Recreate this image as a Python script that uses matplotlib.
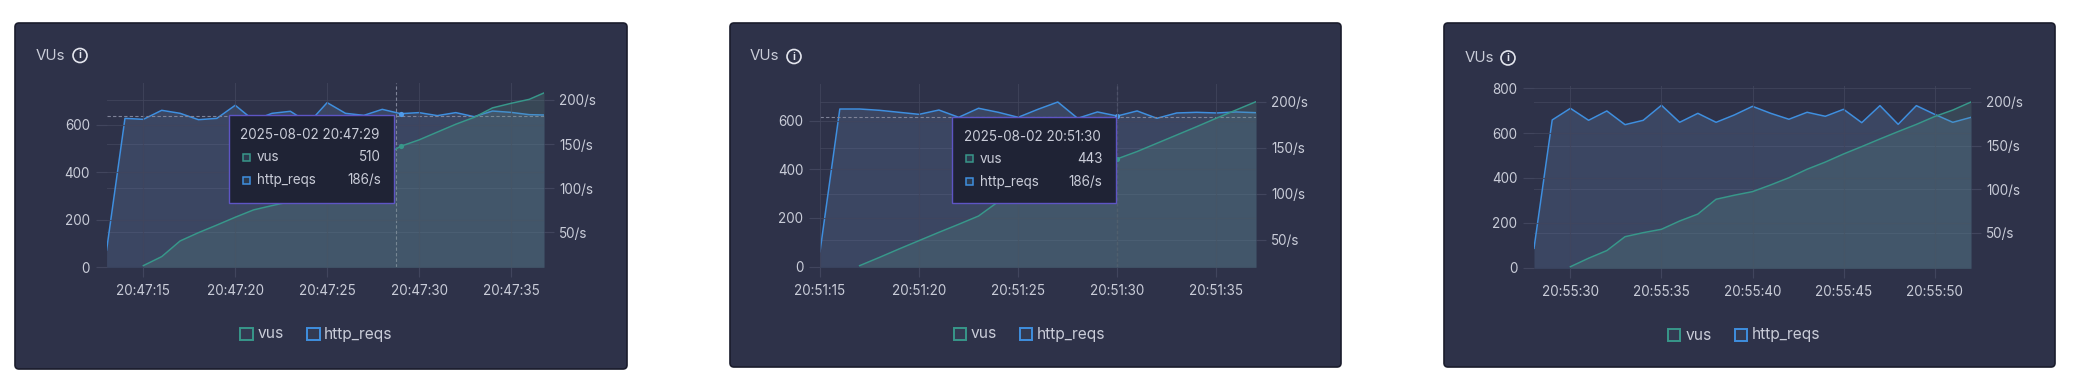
import matplotlib
matplotlib.use("Agg")
import matplotlib.pyplot as plt
from matplotlib.patches import FancyBboxPatch, Rectangle, Circle

plt.rcParams['font.family'] = ['Inter', 'DejaVu Sans']

# ---------- data ----------
secs_a = [13,14,15,16,17,18,19,20,21,22,23,24,25,26,27,28,29,30,31,32,33,34,35,36,36.8]
http_a = [30.2,179.2,178.1,188.3,184.9,177.7,179.2,194,177,184.9,187.2,174,197,184.9,182.6,189.4,184.5,185.7,182.3,185.7,181.1,187.5,186,183.4,183]
vus_secs_a = secs_a[2:]
vus_a = [7,45,111,146,178,211,242,260,277,319,354,396,431,466,510,537,570,603,632,672,691,708,735]
ticks_a = [15,20,25,30,35]
labels_a = ['20:47:15','20:47:20','20:47:25','20:47:30','20:47:35']

secs_b = list(range(15,38))
http_b = [36.9,192,192,190.6,188.4,186.2,190.9,183,192.8,188.4,183,191.7,199.6,181.9,188.8,184.4,189.9,181.9,187.7,188.4,187.7,188.8,188]
vus_secs_b = secs_b[2:]
vus_b = [4,38,73,107,141,174,208,267,308,342,377,397,418,443,473,507,541,575,610,644,678]
ticks_b = [15,20,25,30,35]
labels_b = ['20:51:15','20:51:20','20:51:25','20:51:30','20:51:35']

secs_c = list(range(28,53))
http_c = [32.4,179.4,192.7,179,189.7,174,179,196.2,176.7,187,176.7,185.1,195,187,180.2,188.2,183.6,191.6,176.3,195.8,174.4,195.8,185.9,176.7,182.4]
vus_secs_c = secs_c[2:]
vus_c = [4,42,76,138,156,171,208,239,305,323,339,369,401,439,471,507,540,574,607,639,674,703,739]
ticks_c = [30,35,40,45,50]
labels_c = ['20:55:30','20:55:35','20:55:40','20:55:45','20:55:50']

left_ticks_ab = [0,200,400,600]
left_ticks_c = [0,200,400,600,800]
right_ticks = [50,100,150,200]
right_labels = ['50/s','100/s','150/s','200/s']
series_names = ['vus','http_reqs']

# ---------- style ----------
W, H = 2082, 386
CARD = '#2e3249'; EDGE = '#1a1c2c'; TXT = '#c9ccd8'; GRID = '#41455d'
BLUE = '#3f8fdf'; GREEN = '#38978a'; DASH = '#7f8398'
TIP = '#1f2335'; TIPE = '#5e55c4'
TICK_FS = 9.7

fig = plt.figure(figsize=(W/100, H/100), dpi=100, facecolor='white')
bg = fig.add_axes([0,0,1,1], zorder=0); bg.set_xlim(0,W); bg.set_ylim(H,0); bg.axis('off')
top = fig.add_axes([0,0,1,1], zorder=10); top.set_xlim(0,W); top.set_ylim(H,0); top.axis('off'); top.patch.set_alpha(0)

def card(o):
    x0,x1,y0,y1 = o['card']
    bg.add_patch(FancyBboxPatch((x0+3,y0+3),x1-x0-6,y1-y0-6,boxstyle='round,pad=3,rounding_size=4',
                 fc=CARD,ec=EDGE,lw=1.2))
    tx,ty,cx = o['title']
    bg.text(tx,ty,'VUs',color=TXT,fontsize=10.8,va='center',ha='left')
    bg.add_patch(Circle((cx,ty),7.0,fc='none',ec='#e4e6ee',lw=1.2))
    bg.text(cx,ty,'i',color='#e4e6ee',fontsize=7.5,va='center',ha='center',fontweight='bold')
    # legend
    s1,t1,s2,t2,ly = o['legend']
    for s,t,c,n in ((s1,t1,GREEN,series_names[0]),(s2,t2,BLUE,series_names[1])):
        bg.add_patch(Rectangle((s,ly-6),12.5,12,fc='#333a52',ec=c,lw=1.4))
        bg.text(t,ly,n,color=TXT,fontsize=11.2,va='center',ha='left')

def panel(o, secs, http, vsecs, vus, ticks, labels, lticks):
    card(o)
    l,r,t,b = o['plot']
    ax = fig.add_axes([l/W,1-b/H,(r-l)/W,(b-t)/H],zorder=2)
    ax2 = ax.twinx()
    ax2.set_zorder(1); ax.set_zorder(2)
    for a in (ax,ax2):
        a.patch.set_alpha(0)
        for sp in a.spines.values(): sp.set_visible(False)
    ax.set_xlim(secs[0],secs[-1])
    ax.set_ylim(*o['ylim']); ax2.set_ylim(*o['y2lim'])
    ax2.fill_between(secs,http,o['y2lim'][0],color='#5f7aa6',alpha=0.28,lw=0,zorder=1)
    ax2.plot(secs,http,color=BLUE,lw=1.1,zorder=3)
    ax.fill_between(vsecs,vus,o['ylim'][0],color='#5c9287',alpha=0.22,lw=0,zorder=1)
    ax.plot(vsecs,vus,color=GREEN,lw=1.1,zorder=3)
    ax.set_xticks(ticks); ax.set_xticklabels(labels)
    ax.set_yticks(lticks)
    ax2.set_yticks(right_ticks); ax2.set_yticklabels(right_labels)
    ax.tick_params(axis='x',length=7,width=0.8,color=GRID,labelcolor=TXT,labelsize=TICK_FS,pad=5)
    ax.tick_params(axis='y',length=8,width=0.8,color=GRID,labelcolor=TXT,labelsize=TICK_FS,pad=4)
    ax2.tick_params(axis='y',length=7,width=0.8,color=GRID,labelcolor=TXT,labelsize=TICK_FS,pad=4)
    ax.grid(True,color=GRID,lw=0.8,alpha=0.8); ax.set_axisbelow(True)
    ax2.grid(True,axis='y',color=GRID,lw=0.8,alpha=0.8); ax2.set_axisbelow(True)
    h = o.get('hover')
    if h:
        hx,hv,i,j = h
        ax2.axvline(hx,color=DASH,lw=0.8,ls=(0,(3,2)),zorder=5)
        ax2.axhline(hv,color=DASH,lw=0.8,ls=(0,(3,2)),zorder=5)
        ax2.scatter([secs[i]],[http[i]],s=14,color='#4f9bea',zorder=6,lw=0)
        ax.scatter([vsecs[j]],[vus[j]],s=14,color=GREEN,zorder=6,lw=0)
        x0,x1,y0,y1,tt,vu,hr = o['tip']
        top.add_patch(Rectangle((x0,y0),x1-x0,y1-y0,fc=TIP,ec=TIPE,lw=1.0))
        top.text(x0+12,y0+20,tt,color=TXT,fontsize=9.7,va='center',ha='left')
        for yy,c,n,val in ((y0+42,GREEN,series_names[0],vu),(y0+65,BLUE,series_names[1],hr)):
            top.add_patch(Rectangle((x0+14,yy-3.5),7,7,fc='#2c3a4e',ec=c,lw=1.1))
            top.text(x0+28,yy,n,color=TXT,fontsize=9.7,va='center',ha='left')
            top.text(x1-13,yy,val,color=TXT,fontsize=9.7,va='center',ha='right')

panel(dict(card=(15,627,23,369),title=(36,55.5,80),legend=(240,258,307,324,334),
           plot=(106.6,544,83.3,267.3),ylim=(0,775.6),y2lim=(10.6,218.9),
           hover=(28.75,182.3,16,14),
           tip=(228.5,394,115,203,'2025-08-02 20:47:29','510','186/s')),
      secs_a,http_a,vus_secs_a,vus_a,ticks_a,labels_a,left_ticks_ab)
panel(dict(card=(730,1341,23,367),title=(750,56.5,794),legend=(953.5,971,1019.6,1037,334),
           plot=(820,1256,84,267.3),ylim=(-2.7,750.7),y2lim=(19.9,219.2),
           hover=(30,183.7,15,13),
           tip=(952,1115.5,116.7,203,'2025-08-02 20:51:30','443','186/s')),
      secs_b,http_b,vus_secs_b,vus_b,ticks_b,labels_b,left_ticks_ab)
panel(dict(card=(1444,2055,23,367),title=(1465,58,1508),legend=(1667.5,1686,1734.5,1752,335),
           plot=(1534,1971,86,268.3),ylim=(-3,810.4),y2lim=(9.5,218.3)),
      secs_c,http_c,vus_secs_c,vus_c,ticks_c,labels_c,left_ticks_c)

fig.savefig('out.png',dpi=100,facecolor='white')
